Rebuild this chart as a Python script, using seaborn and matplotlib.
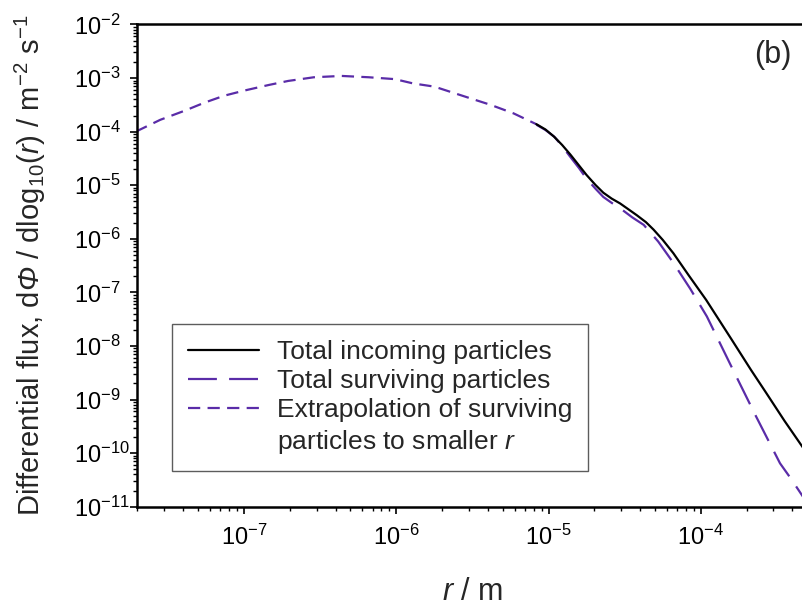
import numpy as np
import pandas as pd
import matplotlib
matplotlib.use("Agg")
import matplotlib.pyplot as plt
import seaborn as sns
from matplotlib.lines import Line2D
from matplotlib.ticker import LogLocator, FuncFormatter, NullFormatter

# ---- data (r in m, flux in m^-2 s^-1) ----
extrap_r = [1.95e-8, 2.82e-8, 4.07e-8, 5.5e-8, 7.41e-8, 1.0e-7, 1.45e-7, 1.95e-7,
            2.88e-7, 4.37e-7, 6.6e-7, 9.8e-7, 1.29e-6, 1.78e-6, 2.4e-6, 3.24e-6,
            4.17e-6, 5.9e-6, 8.3e-6]
extrap_flux = [1.0e-4, 1.66e-4, 2.45e-4, 3.47e-4, 4.68e-4, 5.82e-4, 7.41e-4, 8.83e-4,
               1.035e-3, 1.096e-3, 1.035e-3, 9.55e-4, 7.94e-4, 6.92e-4, 5.25e-4, 3.98e-4,
               3.16e-4, 2.19e-4, 1.38e-4]

incoming_r = [8.32e-6, 9.55e-6, 1.084e-5, 1.23e-5, 1.393e-5, 1.585e-5, 1.778e-5, 2.042e-5,
              2.291e-5, 2.60e-5, 2.951e-5, 3.311e-5, 3.802e-5, 4.365e-5, 4.898e-5, 5.623e-5,
              6.607e-5, 8.318e-5, 1.084e-4, 1.585e-4, 2.138e-4, 2.692e-4, 3.548e-4, 4.72e-4]
incoming_flux = [1.38e-4, 1.096e-4, 8.13e-5, 5.62e-5, 3.72e-5, 2.34e-5, 1.55e-5, 1.0e-5,
                 7.24e-6, 5.62e-6, 4.57e-6, 3.63e-6, 2.75e-6, 2.04e-6, 1.48e-6, 9.55e-7,
                 5.37e-7, 2.09e-7, 7.24e-8, 1.35e-8, 3.55e-9, 1.32e-9, 3.98e-10, 1.23e-10]

surviving_r = [8.32e-6, 9.55e-6, 1.096e-5, 1.23e-5, 1.38e-5, 1.585e-5, 1.778e-5, 2.042e-5,
               2.291e-5, 2.60e-5, 2.951e-5, 3.548e-5, 4.217e-5, 5.248e-5, 6.607e-5, 8.511e-5,
               1.096e-4, 1.585e-4, 2.291e-4, 3.311e-4, 3.89e-4, 4.677e-4]
surviving_flux = [1.349e-4, 1.072e-4, 7.94e-5, 5.37e-5, 3.47e-5, 2.09e-5, 1.32e-5, 8.51e-6,
                  6.03e-6, 4.68e-6, 3.72e-6, 2.51e-6, 1.82e-6, 8.91e-7, 3.55e-7, 1.175e-7,
                  3.55e-8, 4.17e-9, 5.01e-10, 6.46e-11, 3.39e-11, 1.55e-11]

labels = ["Total incoming particles", "Total surviving particles",
          "Extrapolation of surviving", "particles to smaller $\\mathit{r}$"]

# ---- style ----
sns.set_style("ticks")
plt.rcParams["font.family"] = ["Liberation Sans", "DejaVu Sans"]
plt.rcParams["mathtext.fontset"] = "custom"
plt.rcParams["mathtext.rm"] = "Liberation Sans"
plt.rcParams["mathtext.it"] = "Liberation Sans:italic"
plt.rcParams["mathtext.sf"] = "Liberation Sans:italic"
plt.rcParams["mathtext.bf"] = "Liberation Sans:bold"

purple = "#5a2ca8"

fig = plt.figure(figsize=(8.03, 6.06), dpi=100)
ax = fig.add_axes([0.1712, 0.1639, 0.8341, 0.7957])

df_e = pd.DataFrame({"r": extrap_r, "flux": extrap_flux})
df_i = pd.DataFrame({"r": incoming_r, "flux": incoming_flux})
df_s = pd.DataFrame({"r": surviving_r, "flux": surviving_flux})

sns.lineplot(data=df_e, x="r", y="flux", ax=ax, color=purple, lw=1.6,
             linestyle=(0, (5.5, 3.3)), sort=False, estimator=None)
sns.lineplot(data=df_s, x="r", y="flux", ax=ax, color=purple, lw=1.6,
             linestyle=(0, (13, 5.5)), sort=False, estimator=None)
sns.lineplot(data=df_i, x="r", y="flux", ax=ax, color="black", lw=1.6,
             linestyle="-", sort=False, estimator=None)

ax.set_xscale("log")
ax.set_yscale("log")
ax.set_xlim(2e-8, 5e-4)
ax.set_ylim(1e-11, 1e-2)

ax.xaxis.set_major_locator(LogLocator(base=10, numticks=20))
ax.yaxis.set_major_locator(LogLocator(base=10, numticks=20))
ax.xaxis.set_minor_locator(LogLocator(base=10, subs=np.arange(2, 10), numticks=100))
ax.yaxis.set_minor_locator(LogLocator(base=10, subs=np.arange(2, 10), numticks=100))
fmt = FuncFormatter(lambda v, p: r"$\mathregular{10^{%d}}$" % int(round(np.log10(v))))
ax.xaxis.set_major_formatter(fmt)
ax.yaxis.set_major_formatter(fmt)
ax.xaxis.set_minor_formatter(NullFormatter())
ax.yaxis.set_minor_formatter(NullFormatter())

ax.tick_params(axis="both", which="major", direction="out", length=5, width=1.2,
               labelsize=17, color="black", labelcolor="black")
ax.tick_params(axis="x", which="major", pad=8)
ax.tick_params(axis="y", which="major", pad=40.5)
ax.tick_params(axis="both", which="minor", direction="out", length=3, width=1.0,
               color="black")
for lbl in ax.get_yticklabels():
    lbl.set_horizontalalignment("left")

for side in ["left", "bottom", "top", "right"]:
    ax.spines[side].set_visible(True)
    ax.spines[side].set_color("black")
    ax.spines[side].set_linewidth(1.8)

ax.set_xlabel(r"$\mathit{r}$ / m", fontsize=22)
ax.xaxis.set_label_coords(0.5, -0.146)
ax.set_ylabel(r"Differential flux, d$\mathsf{\Phi}$ / dlog$_{10}$($\mathit{r}$) / m$^{-2}$ s$^{-1}$",
              fontsize=21)
ax.yaxis.set_label_coords(-0.1336, 0.5)

ax.text(0.949, 0.937, "(b)", transform=ax.transAxes, ha="center", va="center", fontsize=22)

handles = [
    Line2D([], [], color="black", lw=1.6, linestyle="-"),
    Line2D([], [], color=purple, lw=1.6, linestyle=(0, (13, 5.5))),
    Line2D([], [], color=purple, lw=1.6, linestyle=(0, (5.5, 3.3))),
    Line2D([], [], color="none", lw=0),
]
leg = ax.legend(handles, labels, loc="upper left", bbox_to_anchor=(0.0515, 0.379),
                borderaxespad=0, frameon=True, fancybox=False, fontsize=19,
                handlelength=2.7, handletextpad=0.68, borderpad=0.6,
                labelspacing=0.2)
leg.get_frame().set_edgecolor("#333333")
leg.get_frame().set_linewidth(1.0)

fig.savefig("out.png", dpi=100)
